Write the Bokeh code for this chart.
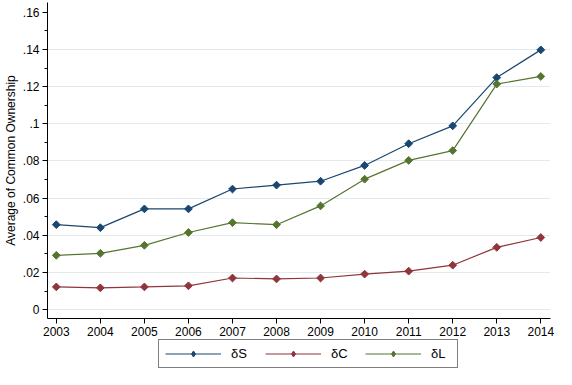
from bokeh.plotting import figure
from bokeh.layouts import column
from bokeh.models import (Range1d, FixedTicker, CustomJSTickFormatter, Legend, LegendItem,
                          ColumnDataSource)
from bokeh.embed import file_html
from bokeh.resources import INLINE

years = [2003, 2004, 2005, 2006, 2007, 2008, 2009, 2010, 2011, 2012, 2013, 2014]
delta_s = [0.0457, 0.0441, 0.0542, 0.0542, 0.0649, 0.0670, 0.0691, 0.0776, 0.0893, 0.0989, 0.1249, 0.1398]
delta_c = [0.0122, 0.0117, 0.0122, 0.0128, 0.0170, 0.0165, 0.0170, 0.0191, 0.0207, 0.0239, 0.0335, 0.0388]
delta_l = [0.0292, 0.0303, 0.0346, 0.0415, 0.0468, 0.0457, 0.0558, 0.0702, 0.0803, 0.0856, 0.1214, 0.1255]
series_labels = ["δS", "δC", "δL"]
series_colors = ["#1a476f", "#90353b", "#55752f"]
y_major = [0, 0.02, 0.04, 0.06, 0.08, 0.10, 0.12, 0.14, 0.16]
y_minor = [0.01, 0.03, 0.05, 0.07, 0.09, 0.11, 0.13, 0.15]
y_grid = [0, 0.02, 0.04, 0.06, 0.08, 0.10, 0.12, 0.14]

FONT = "Liberation Sans"

p = figure(width=556, height=338, output_backend="svg", toolbar_location=None,
           x_range=Range1d(2002.8, 2014.22), y_range=Range1d(-0.0048, 0.1653),
           min_border_left=4, min_border_right=6, min_border_top=2, min_border_bottom=0)
p.outline_line_color = None
p.background_fill_color = "white"
p.border_fill_color = "white"

# axes
p.xaxis.ticker = FixedTicker(ticks=years)
p.xaxis.major_label_text_font = FONT
p.xaxis.major_label_text_font_size = "12px"
p.xaxis.major_label_text_color = "black"
p.xaxis.major_label_standoff = 3
p.xaxis.major_tick_out = 5
p.xaxis.major_tick_in = 0
p.xaxis.minor_tick_line_color = None
p.xaxis.axis_line_color = "black"
p.xaxis.major_tick_line_color = "black"

p.yaxis.ticker = FixedTicker(ticks=y_major, minor_ticks=y_minor)
p.yaxis.formatter = CustomJSTickFormatter(code="""
    let s = tick.toFixed(2).replace(/0+$/, '').replace(/\\.$/, '');
    if (s.startsWith('0.')) s = s.substring(1);
    return s;
""")
p.yaxis.major_label_text_font = FONT
p.yaxis.major_label_text_font_size = "12px"
p.yaxis.major_label_text_color = "black"
p.yaxis.major_label_standoff = 3
p.yaxis.major_tick_out = 5
p.yaxis.major_tick_in = 0
p.yaxis.minor_tick_out = 3
p.yaxis.minor_tick_in = 0
p.yaxis.minor_tick_line_color = "black"
p.yaxis.axis_line_color = "black"
p.yaxis.major_tick_line_color = "black"
p.yaxis.axis_label = "Average of Common Ownership"
p.yaxis.axis_label_text_font = FONT
p.yaxis.axis_label_text_font_size = "12px"
p.yaxis.axis_label_text_font_style = "normal"
p.yaxis.axis_label_text_color = "black"
p.yaxis.axis_label_standoff = 2

# grid
p.xgrid.grid_line_color = None
p.ygrid.ticker = FixedTicker(ticks=y_grid)
p.ygrid.grid_line_color = "#e3eaed"
p.ygrid.grid_line_width = 1

# legend strip below the plot
q = figure(width=556, height=31, output_backend="svg", toolbar_location=None,
           x_range=Range1d(0, 1), y_range=Range1d(0, 1),
           x_axis_type=None, y_axis_type=None,
           min_border_left=0, min_border_right=0, min_border_top=0, min_border_bottom=0)
q.outline_line_color = None
q.xgrid.grid_line_color = None
q.ygrid.grid_line_color = None
q.background_fill_color = "white"
q.border_fill_color = "white"

items = []
for vals, label, color in zip([delta_s, delta_c, delta_l], series_labels, series_colors):
    src = ColumnDataSource(dict(x=years, y=vals))
    p.line("x", "y", source=src, line_color=color, line_width=1.2)
    p.scatter("x", "y", source=src, marker="square", angle=0.785398, size=5.5,
              fill_color=color, line_color=color)
    # legend-only copies, placed outside the strip's visible range
    off = ColumnDataSource(dict(x=[-10, -9], y=[-10, -10]))
    l1 = q.line("x", "y", source=off, line_color=color, line_width=1.2)
    l2 = q.scatter("x", "y", source=off, marker="diamond", size=8,
                   fill_color=color, line_color=color)
    items.append(LegendItem(label=label, renderers=[l1, l2]))

legend = Legend(items=items, orientation="horizontal", location=(111, 1))
legend.glyph_width = 56
legend.glyph_height = 15
legend.label_height = 15
legend.label_standoff = 10
legend.spacing = 14
legend.padding = 6
legend.margin = 0
legend.label_text_font = FONT
legend.label_text_font_size = "13px"
legend.label_text_color = "black"
legend.border_line_color = "black"
legend.border_line_width = 1
legend.background_fill_color = "white"
q.add_layout(legend, "center")

layout = column(p, q, spacing=0)
open("out.html", "w").write(file_html(layout, INLINE))
